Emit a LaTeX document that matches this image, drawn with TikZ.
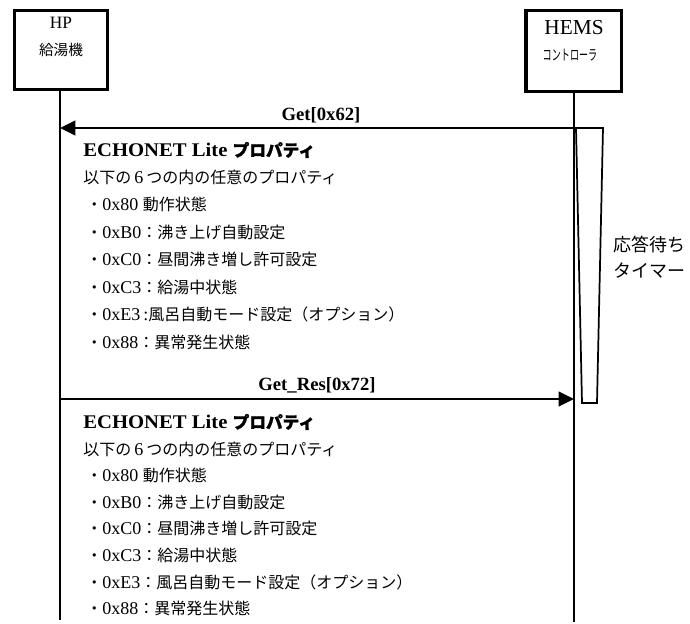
\documentclass[tikz,border=0pt]{standalone}
\usepackage{fontspec}
\setmainfont{Liberation Serif}
\newfontfamily\ttlfont{Liberation Serif}[FakeStretch=1.07]
\newfontfamily\jpfont{Noto Sans CJK JP}
\newfontfamily\jpbfont{Noto Sans CJK JP}[FakeBold=1.3]
\newcommand\J[1]{{\jpfont\fontsize{12pt}{14pt}\selectfont #1}}
\newcommand\JB[1]{{\jpbfont\fontsize{12.5pt}{14pt}\selectfont #1}}
\usetikzlibrary{arrows.meta}
\tikzset{
  actorbox/.style={draw, line width=2.6pt, fill=white, inner sep=0pt},
  lifeline/.style={line width=1.3pt},
  msg/.style={line width=1.5pt, -{Triangle[length=11.5pt,width=11pt]}, shorten >=0pt},
  msglabel/.style={inner sep=0pt, font=\fontsize{14pt}{16pt}\selectfont\bfseries},
  txt/.style={anchor=west, inner sep=0pt, font=\fontsize{13.5pt}{15pt}\selectfont},
  ttl/.style={anchor=west, inner sep=0pt, font=\ttlfont\fontsize{14.5pt}{16pt}\selectfont\bfseries},
  timerbox/.style={draw, line width=1.3pt, fill=white, line join=miter},
}
\begin{document}
\begin{tikzpicture}[x=0.75pt,y=-0.75pt]
\useasboundingbox (0,0) rectangle (690,624);
% actors
\node[actorbox, minimum width=69.5pt, minimum height=59pt] (hp) at (61,50) {};
\node[actorbox, minimum width=71.6pt, minimum height=60.4pt] (hems) at (573.5,51) {};
\node[inner sep=0pt, font=\fontsize{13pt}{15pt}\selectfont] (hpname) at (61,23) {HP};
\node[inner sep=0pt, font=\jpfont\fontsize{11pt}{13pt}\selectfont] (hpsub) at (61,50) {給湯機};
\node[inner sep=0pt, font=\fontsize{16pt}{18pt}\selectfont] (hemsname) at (574,28) {HEMS};
\node[inner sep=0pt, font=\jpfont\fontsize{11pt}{13pt}\selectfont] (hemssub) at (570,55) {\scalebox{0.62}[1]{コントローラ}};
% lifelines
\coordinate (hpend) at (60,620);
\coordinate (hemsend) at (574,622);
\draw[lifeline] (hp.south -| hpend) -- (hpend);
\draw[lifeline] (hems.south -| hemsend) -- (hemsend);
% timer
\draw[timerbox] (576,128) -- (603,128) -- (597,403) -- (582,403) -- cycle;
\node[txt, font=\jpfont\fontsize{13.5pt}{16pt}\selectfont] (tm1) at (613,245) {応答待ち};
\node[txt, font=\jpfont\fontsize{13.5pt}{16pt}\selectfont] (tm2) at (613,271) {タイマー};
% messages
\coordinate (g1) at (574,128);
\coordinate (g2) at (60,128);
\coordinate (r1) at (60,399);
\coordinate (r2) at (574,399);
\draw[msg] (g1) -- (g2);
\draw[msg] (r1) -- (r2);
\node[msglabel] (getlbl) at (321,115) {Get[0x62]};
\node[msglabel] (reslbl) at (317,385) {Get\_Res[0x72]};
% block 1
\node[ttl] (a0) at (83,150) {ECHONET Lite \JB{プロパティ}};
\node[txt] (a1) at (83,177.4) {\J{以下の}\,6\,\J{つの内の任意のプロパティ}};
\node[txt] (a2) at (86,204.8) {\J{・}0x80 \J{動作状態}};
\node[txt] (a3) at (86,232.3) {\J{・}0xB0\J{：沸き上げ自動設定}};
\node[txt] (a4) at (86,259.7) {\J{・}0xC0\J{：昼間沸き増し許可設定}};
\node[txt] (a5) at (86,287) {\J{・}0xC3\J{：給湯中状態}};
\node[txt] (a6) at (86,314.5) {\J{・}0xE3\,:\J{風呂自動モード設定（オプション）}};
\node[txt] (a7) at (86,342) {\J{・}0x88\J{：異常発生状態}};
% block 2
\node[ttl] (b0) at (83,422) {ECHONET Lite \JB{プロパティ}};
\node[txt] (b1) at (83,449) {\J{以下の}\,6\,\J{つの内の任意のプロパティ}};
\node[txt] (b2) at (86,475.5) {\J{・}0x80 \J{動作状態}};
\node[txt] (b3) at (86,502) {\J{・}0xB0\J{：沸き上げ自動設定}};
\node[txt] (b4) at (86,528) {\J{・}0xC0\J{：昼間沸き増し許可設定}};
\node[txt] (b5) at (86,555) {\J{・}0xC3\J{：給湯中状態}};
\node[txt] (b6) at (86,582) {\J{・}0xE3\J{：風呂自動モード設定（オプション）}};
\node[txt] (b7) at (86,608) {\J{・}0x88\J{：異常発生状態}};
\end{tikzpicture}
\end{document}
